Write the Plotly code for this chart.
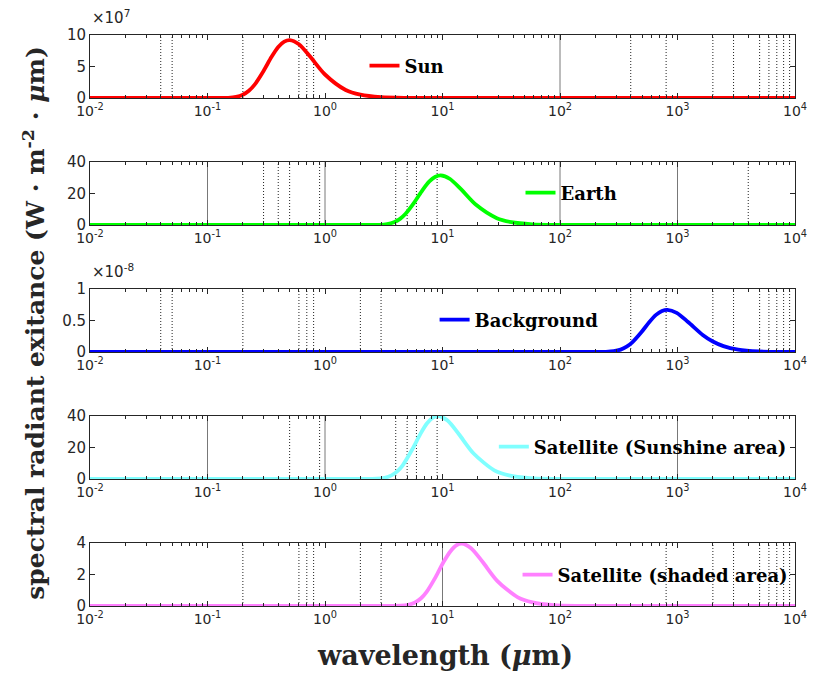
import plotly.graph_objects as go

# ---------------- data ----------------
sun_wl = [0.01, 0.1, 0.15, 0.175, 0.2, 0.225, 0.25, 0.3, 0.35, 0.4, 0.45, 0.5, 0.6, 0.75, 1.0, 1.5, 2.0, 3.0, 5.0, 10.0, 100.0, 10000.0]
sun_val = [0, 0, 0.035, 0.17, 0.52, 1.15, 2.04, 4.3, 6.5, 8.1, 8.94, 9.2, 8.54, 6.53, 3.73, 1.27, 0.52, 0.13, 0.02, 0.0015, 0, 0]  # x 1e7

earth_wl = [0.01, 1, 2.0, 2.9, 3.38, 3.86, 4.35, 4.83, 5.8, 6.76, 7.73, 8.7, 9.66, 11.6, 14.5, 19.3, 29, 38.6, 58, 96.6, 193, 1000, 10000]
earth_val = [0, 0, 0, 0.12, 0.59, 1.79, 3.92, 6.99, 14.7, 22.2, 27.7, 30.6, 31.5, 29.2, 22.4, 12.8, 4.35, 1.78, 0.45, 0.07, 0.005, 0, 0]

bg_wl = [0.01, 100, 200, 246, 287, 328, 369, 410, 492, 574, 656, 738, 820, 984, 1230, 1640, 2000, 2460, 3280, 4920, 8200, 10000]
bg_val = [0, 0, 0, 0.0025, 0.0125, 0.038, 0.0835, 0.149, 0.313, 0.472, 0.589, 0.651, 0.67, 0.622, 0.476, 0.271, 0.166, 0.0925, 0.0379, 0.0095, 0.0015, 0.001]  # x 1e-8

sat_wl = [0.01, 1, 2.0, 2.76, 3.22, 3.68, 4.14, 4.6, 5.52, 6.44, 7.36, 8.28, 9.2, 11.04, 13.8, 18.4, 27.6, 36.8, 55.2, 92, 184, 1000, 10000]
sat_val = [0, 0, 0, 0.15, 0.75, 2.27, 4.98, 8.88, 18.7, 28.2, 35.2, 38.9, 40, 37.1, 28.4, 16.2, 5.52, 2.26, 0.57, 0.088, 0.006, 0, 0]

shd_wl = [0.01, 1, 3.0, 4.38, 5.11, 5.84, 6.57, 7.3, 8.76, 10.2, 11.7, 13.1, 14.6, 17.5, 21.9, 29.2, 43.8, 58.4, 87.6, 146, 292, 1000, 10000]
shd_val = [0, 0, 0, 0.015, 0.074, 0.225, 0.49, 0.88, 1.85, 2.79, 3.48, 3.85, 3.96, 3.67, 2.81, 1.6, 0.55, 0.224, 0.056, 0.009, 0.0006, 0, 0]

series_names = ["Sun", "Earth", "Background", "Satellite (Sunshine area)", "Satellite (shaded area)"]
y_ticks = [[0, 5, 10], [0, 20, 40], [0, 0.5, 1], [0, 20, 40], [0, 2, 4]]
y_exponent = ["×10<sup>7</sup>", None, "×10<sup>-8</sup>", None, None]
x_tickvals = [0.01, 0.1, 1, 10, 100, 1000, 10000]
x_ticktext = ["10<sup>-2</sup>", "10<sup>-1</sup>", "10<sup>0</sup>", "10<sup>1</sup>",
              "10<sup>2</sup>", "10<sup>3</sup>", "10<sup>4</sup>"]
minor_mult = [2, 3, 4, 5, 6, 7, 8, 9]

# visible grid lines in each panel (wavelength positions)
grid_dotted = [
    [0.04, 0.05, 0.2, 0.6, 0.7, 0.8, 400, 800, 2000, 3000, 5000, 6000, 7000, 8000, 9000],
    [0.3, 0.4, 0.5, 0.9, 4, 5, 6, 9, 4000],
    [0.04, 0.05, 0.2, 0.6, 0.7, 0.8, 2, 3, 400, 800, 2000, 3000, 5000, 6000, 7000, 8000, 9000],
    [0.5, 0.9, 4, 5, 6, 9],
    [0.2, 0.6, 0.7, 0.8, 2, 3, 800, 2000, 3000, 5000, 6000, 7000, 8000, 9000],
]
grid_solid = [[100], [0.1, 1, 100, 1000], [], [0.1, 1, 1000], [10]]

# ---------------- styling ----------------
colors = ["#FF0000", "#00FF00", "#0000FF", "#80FFFF", "#FF80FF"]
xs = [sun_wl, earth_wl, bg_wl, sat_wl, shd_wl]
ys = [sun_val, earth_val, bg_val, sat_val, shd_val]

minor_vals = [m * d for d in x_tickvals[:-1] for m in minor_mult]

# the page places the figure 8 px in from the top-left corner
OFF = 8
W, H = 819 - OFF, 677 - OFF
L, R, T, B = 90 - OFF, 15, 35 - OFF, 71
plot_h = H - T - B
tops = [35, 162, 289, 416, 543]       # in page pixels
panel_h = 63
legend_pos = [(368, 66), (526, 193), (439, 320), (499, 447), (523, 575)]

SERIF = "DejaVu Serif, Liberation Serif, serif"
SANS = "DejaVu Sans, Liberation Sans, sans-serif"

fig = go.Figure()
layout = dict(
    width=W, height=H,
    margin=dict(l=L, r=R, t=T, b=B),
    paper_bgcolor="white", plot_bgcolor="white",
    showlegend=True,
    annotations=[],
)

def py(px):
    return (H - B - (px - OFF)) / plot_h

def pxx(px):
    return (px - OFF - L) / (W - L - R)

for i in range(5):
    k = "" if i == 0 else str(i + 1)
    ymax = y_ticks[i][-1]
    gx, gy = [], []
    for v in grid_dotted[i]:
        gx += [v, v, None]
        gy += [0, ymax, None]
    fig.add_trace(go.Scatter(x=gx, y=gy, mode="lines", xaxis="x" + k, yaxis="y" + k,
                             line=dict(color="#222222", width=1, dash="1px,2px"),
                             showlegend=False, hoverinfo="skip"))
    sx, sy = [], []
    for v in grid_solid[i]:
        sx += [v, v, None]
        sy += [0, ymax, None]
    if sx:
        fig.add_trace(go.Scatter(x=sx, y=sy, mode="lines", xaxis="x" + k, yaxis="y" + k,
                                 line=dict(color="#555555", width=0.8),
                                 showlegend=False, hoverinfo="skip"))
    leg = "legend" if i == 0 else "legend" + str(i + 1)
    fig.add_trace(go.Scatter(x=xs[i], y=ys[i], mode="lines", name=series_names[i],
                             xaxis="x" + k, yaxis="y" + k, legend=leg, cliponaxis=False,
                             line=dict(color=colors[i], width=3.8, shape="spline", smoothing=0.8)))
    top = tops[i]
    bot = top + panel_h
    layout["xaxis" + k] = dict(
        type="log", range=[-2, 4], domain=[0, 1], anchor="y" + k,
        tickmode="array", tickvals=x_tickvals, ticktext=x_ticktext,
        ticks="inside", ticklen=5, tickcolor="#262626",
        showline=True, linecolor="#262626", linewidth=1, mirror="ticks",
        showgrid=False, zeroline=False,
        tickfont=dict(family=SANS, size=14, color="#262626"),
        minor=dict(tickmode="array", tickvals=minor_vals, ticks="inside", ticklen=3,
                   tickcolor="#262626", showgrid=False),
    )
    layout["yaxis" + k] = dict(
        range=[0, ymax], domain=[py(bot), py(top)], anchor="x" + k,
        tickvals=y_ticks[i], ticks="inside", ticklen=5, tickcolor="#262626",
        showline=True, linecolor="#262626", linewidth=1, mirror="ticks",
        showgrid=False, zeroline=False,
        tickfont=dict(family=SANS, size=15, color="#262626"),
    )
    lx, ly = legend_pos[i]
    layout[leg] = dict(
        x=pxx(lx), y=py(ly), xanchor="left", yanchor="middle",
        bgcolor="rgba(0,0,0,0)", borderwidth=0, itemwidth=30,
        font=dict(family=SERIF, size=18, color="black", weight="bold"),
        tracegroupgap=0,
    )
    if y_exponent[i]:
        layout["annotations"].append(dict(
            text=y_exponent[i], x=pxx(90), y=py(top - 6), xref="paper", yref="paper",
            xanchor="left", yanchor="bottom", showarrow=False,
            font=dict(family=SANS, size=15, color="#262626")))

layout["annotations"].append(dict(
    text="<b>wavelength (<i>μ</i>m)</b>", x=pxx(450), y=py(655), xref="paper", yref="paper",
    xanchor="center", yanchor="middle", showarrow=False,
    font=dict(family=SERIF, size=27, color="#262626")))
layout["annotations"].append(dict(
    text="<b>spectral radiant exitance (W · m<sup>-2</sup> · <i>μ</i>m)</b>",
    x=pxx(33), y=py(323), xref="paper", yref="paper", textangle=-90,
    xanchor="center", yanchor="middle", showarrow=False,
    font=dict(family=SERIF, size=25, color="#262626")))

fig.update_layout(**layout)
fig.write_html("out.html")
